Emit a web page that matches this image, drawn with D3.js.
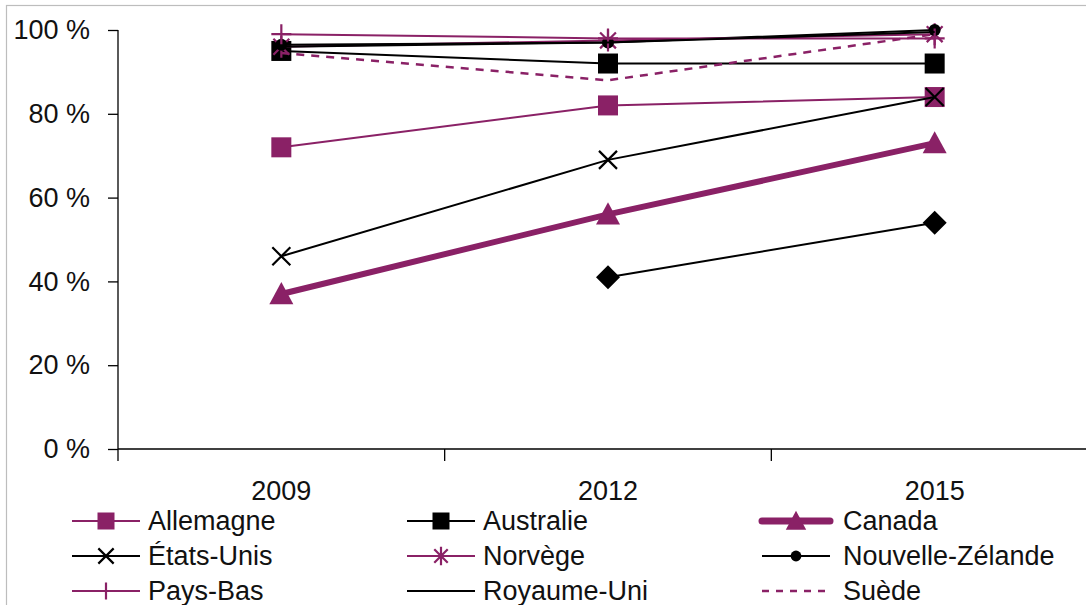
<!DOCTYPE html>
<html>
<head>
<meta charset="utf-8">
<script src="https://cdn.jsdelivr.net/npm/d3@7"></script>
<style>
  html, body { margin: 0; padding: 0; background: #fff; }
  svg { display: block; font-family: "Liberation Sans", Arial, sans-serif; }
</style>
</head>
<body>
<svg id="chart" width="1086" height="605"></svg>
<script>
// Years on the horizontal axis
const years = ["2009", "2012", "2015"];
const yTicks = [0, 20, 40, 60, 80, 100];

// Share (%) per country and year; null = no data
const allemagne = [72, 82, 84];
const australie = [95, 92, 92];
const canada = [37, 56, 73];
const etatsUnis = [46, 69, 84];
const norvege = [96, 97.5, 99];
const nouvelleZelande = [96.5, 97, 100];
const paysBas = [99, 98, 98];
const royaumeUni = [96, 97, 99.5];
const suede = [94.5, 88, 99];
const autrePays = [null, 41, 54];

const purple = "#8a2166";
const black = "#000";
const FONT = 27;

const series = [
  { name: "Allemagne", values: allemagne, color: purple, width: 2, marker: "square", dash: null, legend: true },
  { name: "Australie", values: australie, color: black, width: 2, marker: "square", dash: null, legend: true },
  { name: "Canada", values: canada, color: purple, width: 6, marker: "triangle", dash: null, legend: true },
  { name: "États-Unis", values: etatsUnis, color: black, width: 2, marker: "x", dash: null, legend: true },
  { name: "Norvège", values: norvege, color: purple, width: 2, marker: "asterisk", dash: null, legend: true },
  { name: "Nouvelle-Zélande", values: nouvelleZelande, color: black, width: 2, marker: "circle", dash: null, legend: true },
  { name: "Pays-Bas", values: paysBas, color: purple, width: 2, marker: "plus", dash: null, legend: true },
  { name: "Royaume-Uni", values: royaumeUni, color: black, width: 2, marker: null, dash: null, legend: true },
  { name: "Suède", values: suede, color: purple, width: 2.5, marker: null, dash: "8,7", legend: true },
  { name: "Autre", values: autrePays, color: black, width: 2, marker: "diamond", dash: null, legend: false }
];

const svg = d3.select("#chart");

// light frame around the chart area
svg.append("rect")
  .attr("x", 6.5).attr("y", 5.5)
  .attr("width", 1100).attr("height", 640)
  .attr("fill", "none").attr("stroke", "#bdbdbd").attr("stroke-width", 1.2);

const x = d3.scaleBand().domain(years).range([118, 1098]);
const y = d3.scaleLinear().domain([0, 100]).range([449, 30]);

// y axis
const yAxis = svg.append("g").attr("transform", "translate(118,0)")
  .call(d3.axisLeft(y).tickValues(yTicks).tickSize(10).tickPadding(18)
    .tickFormat(d => d + " %"));
yAxis.select(".domain").attr("d", `M0,${y(100)}V${y(0)}`).attr("stroke", "#000").attr("stroke-width", 1.3);
yAxis.selectAll(".tick line").attr("stroke", "#000").attr("stroke-width", 1.3);
yAxis.selectAll(".tick text").attr("font-size", FONT).attr("fill", "#111")
  .attr("font-family", "'Liberation Sans', Arial, sans-serif");

// x axis with ticks at band boundaries
const xg = svg.append("g").attr("transform", `translate(0,${y(0)})`);
xg.append("line").attr("x1", 118).attr("x2", 1098).attr("y1", 0).attr("y2", 0)
  .attr("stroke", "#000").attr("stroke-width", 1.3);
const bounds = years.map(d => x(d)).concat([x.range()[1]]);
xg.selectAll("line.tk").data(bounds).join("line").attr("class", "tk")
  .attr("x1", d => d).attr("x2", d => d).attr("y1", 0).attr("y2", 12)
  .attr("stroke", "#000").attr("stroke-width", 1.3);
xg.selectAll("text").data(years).join("text")
  .attr("x", d => x(d) + x.bandwidth() / 2).attr("y", 51)
  .attr("text-anchor", "middle").attr("font-size", FONT).attr("fill", "#111")
  .text(d => d);

const cx = d => x(d) + x.bandwidth() / 2;

function drawMarker(g, type, color, px, py, scale) {
  const s = scale || 1;
  if (type === "square") {
    g.append("rect").attr("x", px - 10 * s).attr("y", py - 10 * s)
      .attr("width", 20 * s).attr("height", 20 * s).attr("fill", color);
  } else if (type === "triangle") {
    const h = 12 * s;
    g.append("path").attr("d", `M${px},${py - h}L${px + 12 * s},${py + h * 0.85}L${px - 12 * s},${py + h * 0.85}Z`)
      .attr("fill", color);
  } else if (type === "diamond") {
    const r = 12 * s;
    g.append("path").attr("d", `M${px},${py - r}L${px + r},${py}L${px},${py + r}L${px - r},${py}Z`)
      .attr("fill", color);
  } else if (type === "circle") {
    g.append("circle").attr("cx", px).attr("cy", py).attr("r", 6 * s).attr("fill", color);
  } else if (type === "x") {
    const r = 9 * s;
    g.append("path").attr("d", `M${px - r},${py - r}L${px + r},${py + r}M${px - r},${py + r}L${px + r},${py - r}`)
      .attr("stroke", color).attr("stroke-width", 2.2).attr("fill", "none");
  } else if (type === "plus") {
    const r = 10 * s;
    g.append("path").attr("d", `M${px - r},${py}L${px + r},${py}M${px},${py - r}L${px},${py + r}`)
      .attr("stroke", color).attr("stroke-width", 2.2).attr("fill", "none");
  } else if (type === "asterisk") {
    const r = 11 * s;
    const d = r * 0.72;
    g.append("path").attr("d",
      `M${px},${py - r}L${px},${py + r}M${px - d},${py - d}L${px + d},${py + d}M${px - d},${py + d}L${px + d},${py - d}`)
      .attr("stroke", color).attr("stroke-width", 2.2).attr("fill", "none");
  }
}

const line = d3.line()
  .defined(d => d.v !== null)
  .x(d => cx(d.year)).y(d => y(d.v));

const plot = svg.append("g");
series.forEach(s => {
  const pts = years.map((yr, i) => ({ year: yr, v: s.values[i] }));
  plot.append("path").datum(pts)
    .attr("d", line)
    .attr("fill", "none").attr("stroke", s.color).attr("stroke-width", s.width)
    .attr("stroke-dasharray", s.dash);
  if (s.marker) {
    pts.filter(p => p.v !== null).forEach(p => drawMarker(plot, s.marker, s.color, cx(p.year), y(p.v), 1));
  }
});

// legend: three columns, three rows
const legendCols = [72, 407, 762];
const legendRows = [521, 556, 591];
const legendItems = series.filter(s => s.legend);
const lg = svg.append("g");
legendItems.forEach((s, i) => {
  const col = i % 3, row = Math.floor(i / 3);
  const lx = legendCols[col], ly = legendRows[row];
  const g = lg.append("g");
  g.append("line").attr("x1", lx).attr("x2", lx + 68).attr("y1", ly).attr("y2", ly)
    .attr("stroke", s.color).attr("stroke-width", s.width === 6 ? 7 : s.width)
    .attr("stroke-dasharray", s.dash ? "7,7" : null)
    .attr("stroke-linecap", s.width === 6 ? "round" : "butt");
  if (s.marker) drawMarker(g, s.marker, s.color, lx + 34, ly, s.marker === "circle" ? 0.9 : 0.85);
  g.append("text").attr("x", lx + (col === 2 ? 81 : 76)).attr("y", ly + 9)
    .attr("font-size", FONT).attr("fill", "#111").text(s.name);
});
</script>
</body>
</html>
